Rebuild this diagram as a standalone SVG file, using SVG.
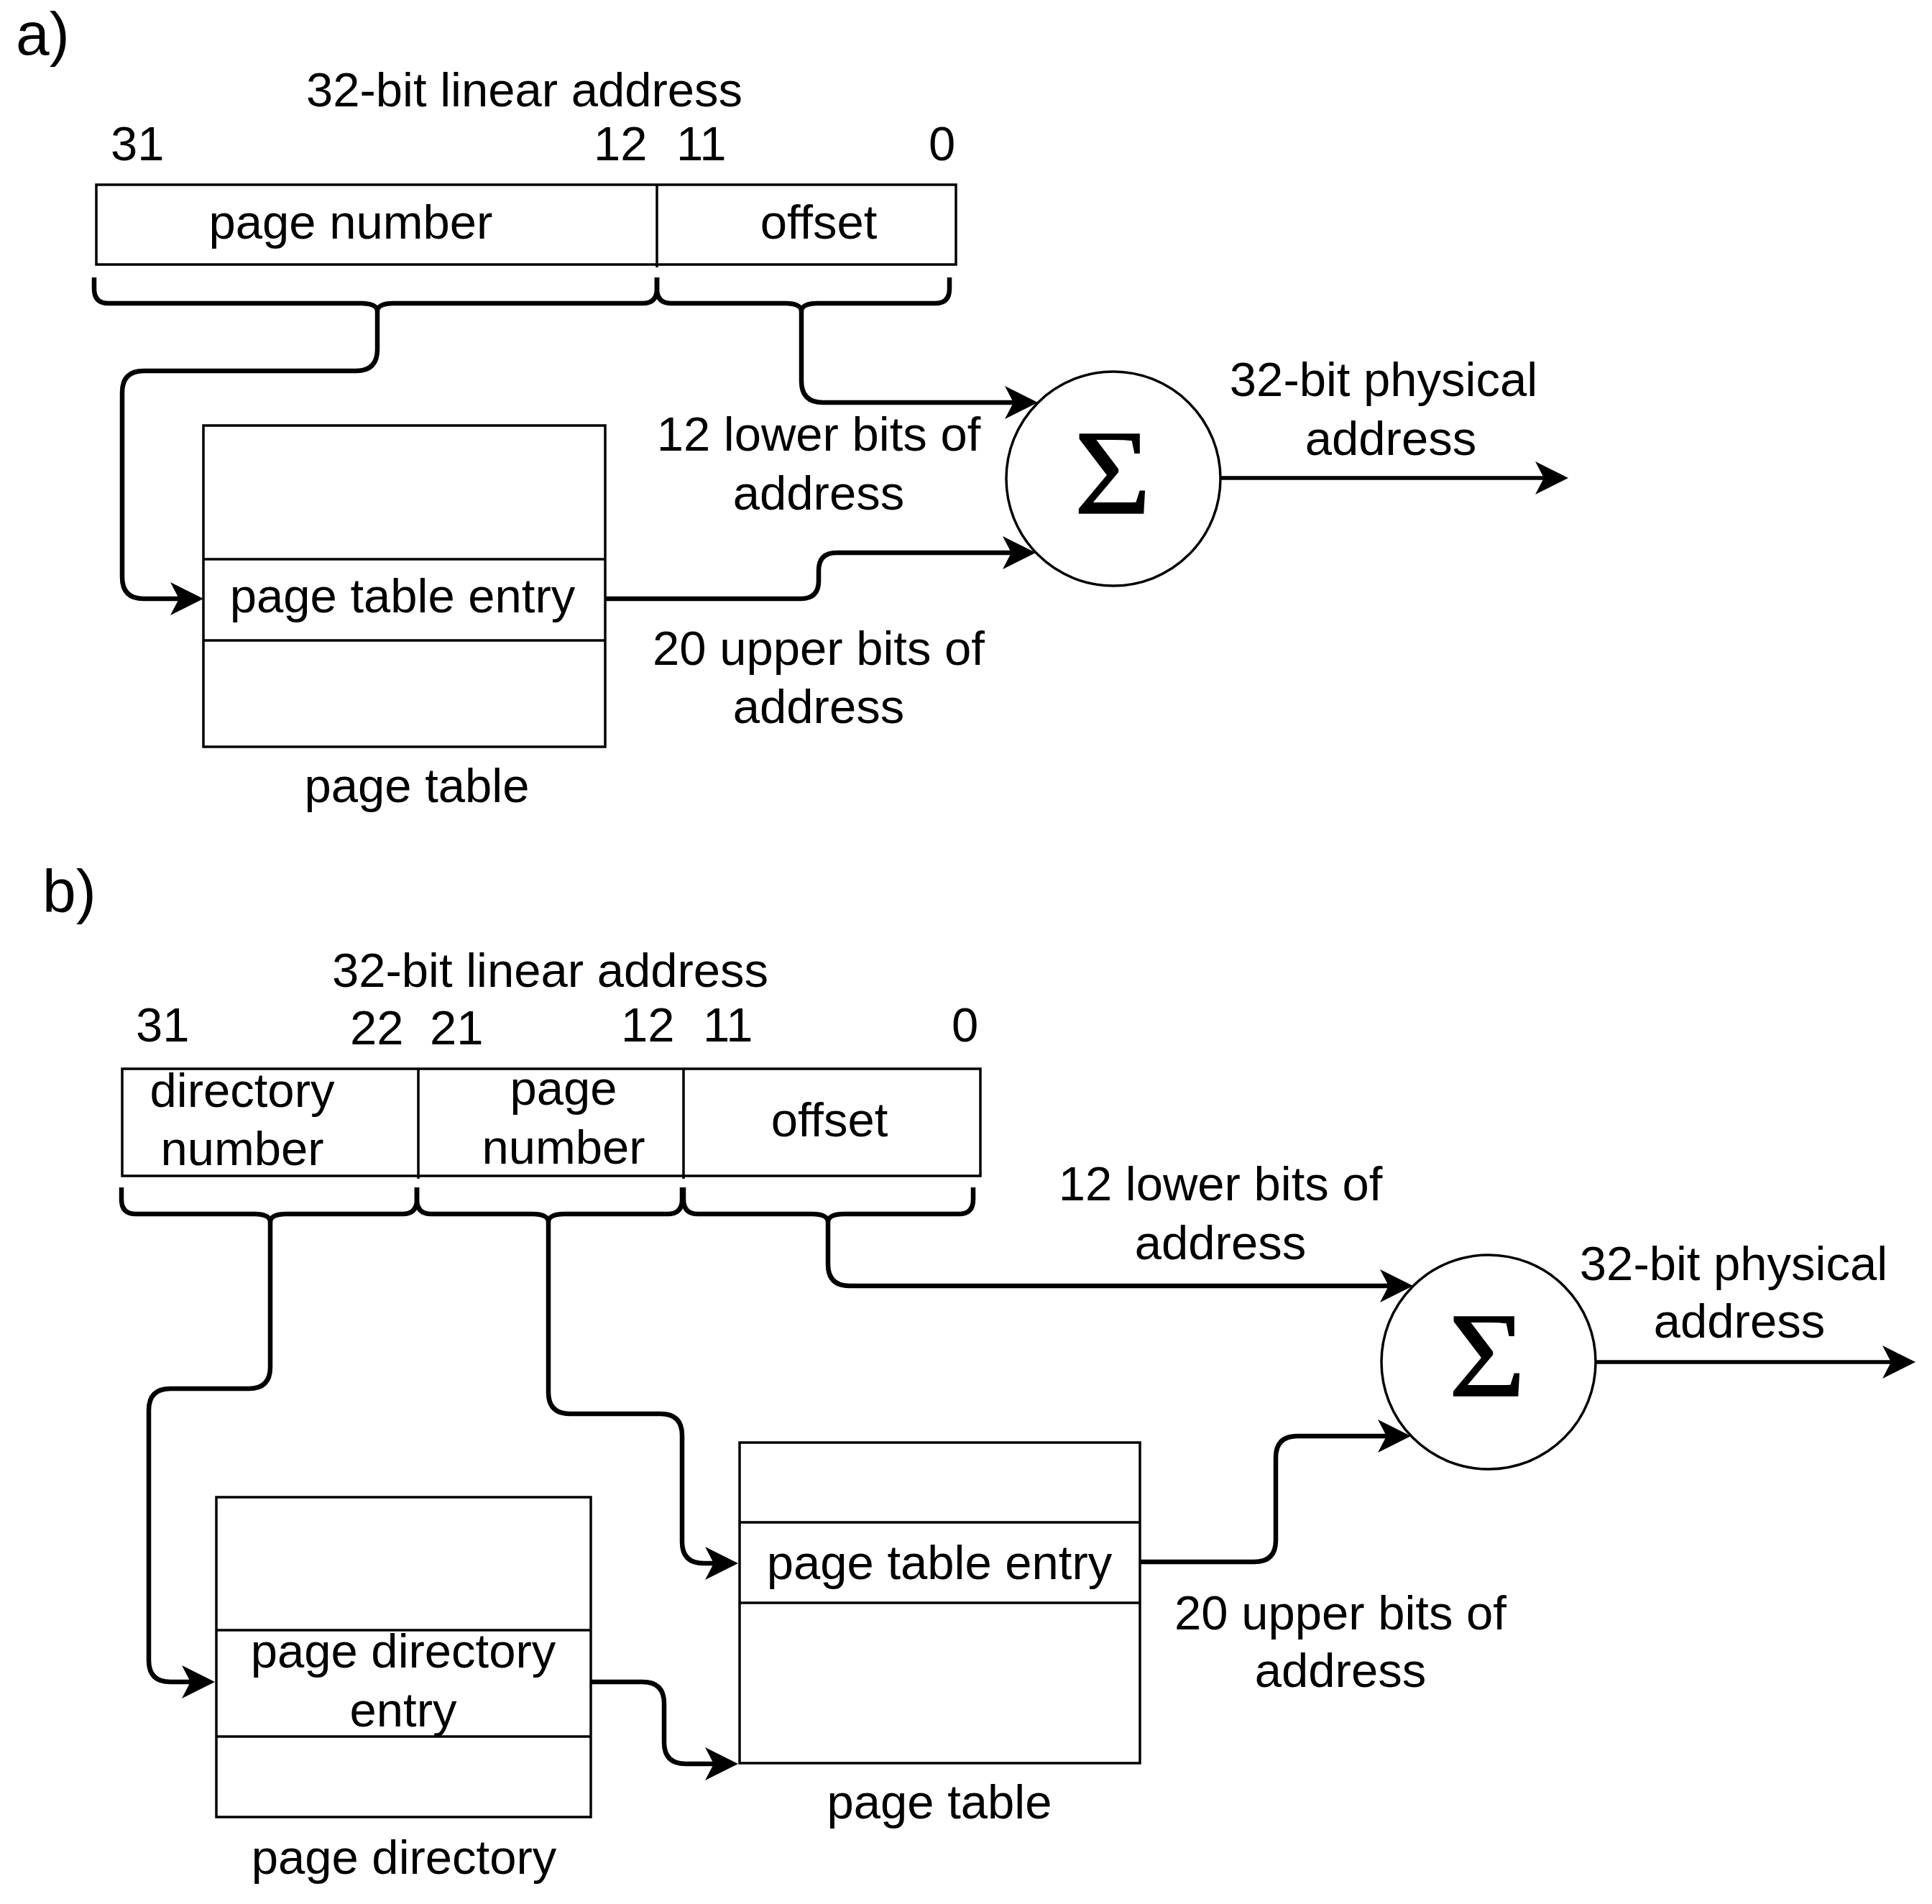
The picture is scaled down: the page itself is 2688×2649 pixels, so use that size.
<svg xmlns="http://www.w3.org/2000/svg" width="2688" height="2649" viewBox="0 0 2688 2649">
<style>
.t{font-family:"Liberation Sans",Arial,sans-serif;font-size:67px;fill:#000}
.lbl{font-family:"Liberation Sans",Arial,sans-serif;font-size:84px;fill:#000}
.c{text-anchor:middle}
.box{fill:none;stroke:#000;stroke-width:3.5}
.conn{fill:none;stroke:#000;stroke-width:6.5;stroke-linejoin:round}
.thin{fill:none;stroke:#000;stroke-width:5.5}
.sig{font-family:"Liberation Serif","Times New Roman",serif;font-size:167px;fill:#000;stroke:#000;stroke-width:1.5;text-anchor:middle}
</style>
<defs>
<marker id="arr" markerUnits="userSpaceOnUse" markerWidth="50" markerHeight="50" viewBox="-2 -25 50 50" refX="12" refY="0" orient="auto">
<path d="M0,-23 L46,0 L0,23 L12,0 Z" fill="#000"/>
</marker>
</defs>
<rect width="2688" height="2649" fill="#fff"/>

<!-- Part a -->
<text class="lbl" x="22" y="76">a)</text>
<text class="t" x="426" y="148">32-bit linear address</text>
<text class="t" x="154" y="223">31</text>
<text class="t" x="826" y="223">12</text>
<text class="t" x="941" y="223">11</text>
<text class="t" x="1292" y="223">0</text>

<g id="a-linear-address">
<rect class="box" x="134" y="257" width="1196" height="111"/>
<line class="box" x1="914" y1="257" x2="914" y2="372"/>
<text class="t c" x="488" y="332">page number</text>
<text class="t c" x="1139" y="332">offset</text>
</g>

<g id="a-page-table">
<rect class="box" x="283" y="592" width="559" height="447"/>
<line class="box" x1="283" y1="778" x2="842" y2="778"/>
<line class="box" x1="283" y1="891" x2="842" y2="891"/>
<text class="t c" x="560" y="852">page table entry</text>
<text class="t c" x="580" y="1116">page table</text>
</g>

<g id="a-sum">
<circle class="box" cx="1549" cy="666" r="149"/>
<text class="sig" transform="translate(1548,714) scale(1.1,1)" x="0" y="0">Σ</text>
</g>

<text class="t c" x="1139" y="627">12 lower bits of</text>
<text class="t c" x="1139" y="709">address</text>
<text class="t c" x="1139" y="925">20 upper bits of</text>
<text class="t c" x="1139" y="1006">address</text>
<text class="t c" x="1925" y="551">32-bit physical</text>
<text class="t c" x="1935" y="633">address</text>

<!-- Part b -->
<text class="lbl" x="59" y="1269">b)</text>
<text class="t" x="462" y="1373">32-bit linear address</text>
<text class="t" x="189" y="1449">31</text>
<text class="t" x="487" y="1453">22</text>
<text class="t" x="598" y="1453">21</text>
<text class="t" x="864" y="1449">12</text>
<text class="t" x="978" y="1449">11</text>
<text class="t" x="1324" y="1449">0</text>

<g id="b-linear-address">
<rect class="box" x="170" y="1487" width="1194" height="149"/>
<line class="box" x1="582" y1="1487" x2="582" y2="1640"/>
<line class="box" x1="951" y1="1487" x2="951" y2="1640"/>
<text class="t c" x="337" y="1540">directory</text>
<text class="t c" x="337" y="1621">number</text>
<text class="t c" x="784" y="1537">page</text>
<text class="t c" x="784" y="1619">number</text>
<text class="t c" x="1154" y="1581">offset</text>
</g>

<g id="b-page-directory">
<rect class="box" x="301" y="2083" width="521" height="445"/>
<line class="box" x1="301" y1="2268" x2="822" y2="2268"/>
<line class="box" x1="301" y1="2416" x2="822" y2="2416"/>
<text class="t c" x="561" y="2320">page directory</text>
<text class="t c" x="561" y="2402">entry</text>
<text class="t c" x="562" y="2607">page directory</text>
</g>

<g id="b-page-table">
<rect class="box" x="1029" y="2007" width="557" height="446"/>
<line class="box" x1="1029" y1="2118" x2="1586" y2="2118"/>
<line class="box" x1="1029" y1="2230" x2="1586" y2="2230"/>
<text class="t c" x="1307" y="2197">page table entry</text>
<text class="t c" x="1307" y="2530">page table</text>
</g>

<g id="b-sum">
<circle class="box" cx="2071" cy="1895" r="149"/>
<text class="sig" transform="translate(2069,1942) scale(1.1,1)" x="0" y="0">Σ</text>
</g>

<text class="t c" x="1698" y="1670">12 lower bits of</text>
<text class="t c" x="1698" y="1752">address</text>
<text class="t c" x="1865" y="2267">20 upper bits of</text>
<text class="t c" x="1865" y="2347">address</text>
<text class="t c" x="2412" y="1781">32-bit physical</text>
<text class="t c" x="2420" y="1861">address</text>

<g id="connectors">
<!-- braces a -->
<path class="conn" d="M131,386 V402 Q131,422 151,422 H503 C517,422 525,426 525,433 C525,426 533,422 547,422 H894 Q914,422 914,402 V386"/>
<path class="conn" d="M914,386 V402 Q914,422 934,422 H1093 C1107,422 1115,426 1115,433 C1115,426 1123,422 1137,422 H1301 Q1321,422 1321,402 V386"/>
<!-- connectors a -->
<path class="conn" marker-end="url(#arr)" d="M525,433 V486 Q525,516 495,516 H200 Q170,516 170,546 V803 Q170,833 200,833 H249"/>
<path class="conn" marker-end="url(#arr)" d="M1115,433 V530 Q1115,560 1145,560 H1410"/>
<path class="conn" marker-end="url(#arr)" d="M842,833 H1114 Q1139,833 1139,808 V794 Q1139,769 1164,769 H1407"/>
<path class="thin" marker-end="url(#arr)" d="M1698,665 H2148"/>
<!-- braces b -->
<path class="conn" d="M169,1652 V1669 Q169,1689 189,1689 H354 C368,1689 376,1693 376,1700 C376,1693 384,1689 398,1689 H560 Q580,1689 580,1669 V1652"/>
<path class="conn" d="M580,1652 V1669 Q580,1689 600,1689 H741 C755,1689 763,1693 763,1700 C763,1693 771,1689 785,1689 H929 Q949,1689 949,1669 V1652"/>
<path class="conn" d="M951,1652 V1669 Q951,1689 971,1689 H1130 C1144,1689 1152,1693 1152,1700 C1152,1693 1160,1689 1174,1689 H1334 Q1354,1689 1354,1669 V1652"/>
<!-- connectors b -->
<path class="conn" marker-end="url(#arr)" d="M376,1700 V1902 Q376,1932 346,1932 H237 Q207,1932 207,1962 V2310 Q207,2340 237,2340 H265"/>
<path class="conn" marker-end="url(#arr)" d="M763,1700 V1937 Q763,1967 793,1967 H919 Q949,1967 949,1997 V2145 Q949,2175 979,2175 H993"/>
<path class="conn" marker-end="url(#arr)" d="M1152,1700 V1759 Q1152,1789 1182,1789 H1932"/>
<path class="conn" marker-end="url(#arr)" d="M822,2340 H894 Q924,2340 924,2370 V2424 Q924,2454 954,2454 H993"/>
<path class="conn" marker-end="url(#arr)" d="M1586,2173 H1745 Q1775,2173 1775,2143 V2028 Q1775,1998 1805,1998 H1929"/>
<path class="thin" marker-end="url(#arr)" d="M2220,1895 H2631"/>
</g>
</svg>
